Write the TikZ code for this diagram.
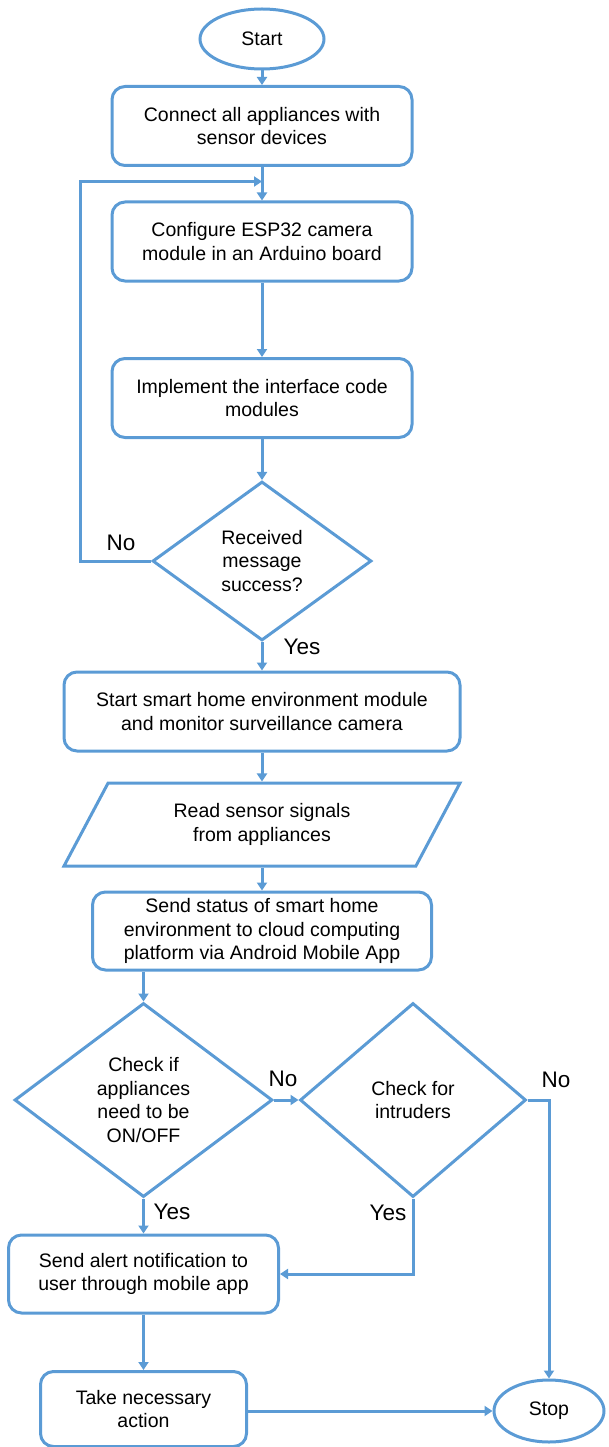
\documentclass[tikz,border=0pt]{standalone}
\usepackage{fontspec}
\setmainfont{Liberation Sans}
\usetikzlibrary{shapes.geometric, arrows.meta}
\definecolor{flowblue}{RGB}{91,155,213}

\begin{document}
\begin{tikzpicture}[x=1pt, y=-1pt, >={Triangle[length=8pt,width=10pt]},
    every node/.style={font=\fontsize{19.5}{23.5}\selectfont, align=center},
    box/.style={draw=flowblue, line width=3pt, rounded corners=13pt, minimum width=#1, minimum height=79pt, inner sep=2pt},
    term/.style={ellipse, draw=flowblue, line width=3pt, minimum width=#1, minimum height=60pt, inner sep=0pt},
    dec/.style={diamond, draw=flowblue, line width=3pt, inner sep=0pt, minimum height=#1},
    io/.style={trapezium, trapezium left angle=46, trapezium right angle=134, trapezium stretches body, draw=flowblue, line width=3pt, minimum width=396pt, minimum height=83pt, inner sep=2pt},
    arr/.style={->, draw=flowblue, line width=3pt},
    lbl/.style={font=\fontsize{22.5}{26}\selectfont}]
    \useasboundingbox (0,0) rectangle (608,1447);

    % Main column
    \node[term=124pt] (start) at (262,39) {Start};
    \node[box=300pt] (connect) at (262,126) {Connect all appliances with\\sensor devices};
    \node[box=300pt] (config) at (262,241.5) {Configure ESP32 camera\\module in an Arduino board};
    \node[box=300pt] (implement) at (262,398) {Implement the interface code\\modules};
    \node[dec=159pt, minimum width=219pt] (received) at (262,561) {Received\\message\\success?};
    \node[box=396pt] (smarthome) at (262,711.5) {Start smart home environment module\\and monitor surveillance camera};
    \node[io] (readsensor) at (262,824.5) {Read sensor signals\\from appliances};
    \node[box=339pt, minimum height=78pt] (sendstatus) at (262,931) {Send status of smart home\\environment to cloud computing\\platform via Android Mobile App};

    % Checks
    \node[dec=194pt, minimum width=258pt] (onoff) at (143.5,1100) {Check if\\appliances\\need to be\\ON/OFF};
    \node[dec=194pt, minimum width=226pt] (intruder) at (413,1100) {Check for\\intruders};
    \node[box=270pt, minimum height=78pt] (alert) at (143.5,1274) {Send alert notification to\\user through mobile app};
    \node[box=206pt, minimum height=75pt] (action) at (143.5,1409) {Take necessary\\action};
    \node[term=110pt, minimum height=62pt] (stop) at (549,1411) {Stop};

    % Labels
    \node[lbl] (nomsg) at (121,543) {No};
    \node[lbl] (yesmsg) at (302,647) {Yes};
    \node[lbl] (noonoff) at (283,1079) {No};
    \node[lbl] (nointruder) at (556,1080) {No};
    \node[lbl] (yesonoff) at (172,1212) {Yes};
    \node[lbl] (yesintruder) at (388,1213) {Yes};

    % Connectors
    \coordinate (merge) at (262,181.5);
    \draw[arr] (start) -- (connect);
    \draw[arr] (connect) -- (config);
    \draw[arr] (config) -- (implement);
    \draw[arr] (implement) -- (received);
    \draw[arr] (received.west) -| (80.5,181.5) -- (merge);
    \draw[arr] (received) -- (smarthome);
    \draw[arr] (smarthome) -- (readsensor);
    \draw[arr] (readsensor) -- (sendstatus);
    \draw[arr] (sendstatus.south -| onoff.north) -- (onoff.north);
    \draw[arr] (onoff.east) -- (intruder.west);
    \draw[arr] (onoff.south) -- (alert.north);
    \draw[arr] (intruder.south) |- (alert.east);
    \draw[arr] (intruder.east) -| (stop.north);
    \draw[arr] (alert) -- (action);
    \draw[arr] (action.east |- stop.west) -- (stop.west);
\end{tikzpicture}
\end{document}
